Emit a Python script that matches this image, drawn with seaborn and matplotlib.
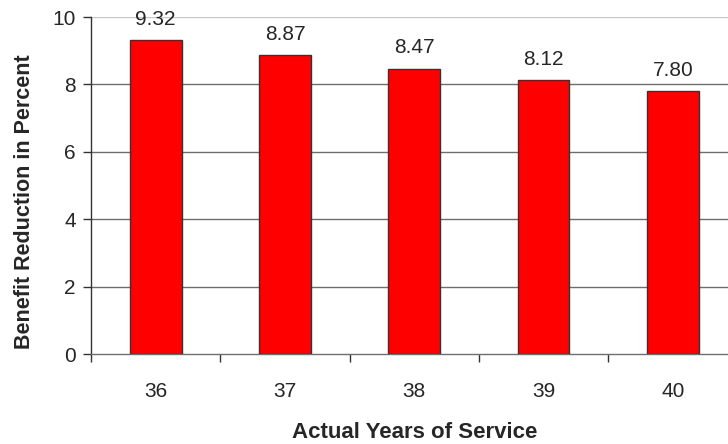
import matplotlib
matplotlib.use("Agg")
import matplotlib.pyplot as plt
import seaborn as sns
import pandas as pd

years = ["36", "37", "38", "39", "40"]
reduction = [9.32, 8.87, 8.47, 8.12, 7.80]
y_ticks = [0, 2, 4, 6, 8, 10]

sns.set_style("white")
plt.rcParams["font.family"] = ["Liberation Sans", "DejaVu Sans"]

df = pd.DataFrame({"years": years, "reduction": reduction})

fig = plt.figure(figsize=(7.28, 4.44), dpi=100)
ax = fig.add_axes([0.125, 0.2027, 0.888, 0.759])

sns.barplot(data=df, x="years", y="reduction", ax=ax, color="#ff0000",
            saturation=1, width=0.4, edgecolor="#333333", linewidth=1, zorder=3)

ax.set_ylim(0, 10)
ax.set_xlim(-0.5, len(years) - 0.5)
ax.set_yticks(y_ticks)
ax.set_yticklabels([str(t) for t in y_ticks], fontsize=15)

for t in y_ticks[1:]:
    ax.axhline(t, color="#c8c8c8" if t == 10 else "#6e6e6e", lw=1, zorder=1)

# category labels at bar centres, tick marks on category boundaries
ax.set_xticks(range(len(years)))
ax.set_xticklabels(years, fontsize=15)
ax.tick_params(axis="x", length=0, pad=20)
ax.set_xticks([i + 0.5 for i in range(-1, len(years))], minor=True)
ax.tick_params(axis="x", which="minor", length=6, width=1, color="#333333", direction="out")
ax.tick_params(axis="y", length=6, width=1, color="#333333", direction="out", pad=5)
ax.xaxis.set_ticks_position("bottom")
ax.yaxis.set_ticks_position("left")

for side in ["top", "right"]:
    ax.spines[side].set_visible(False)
ax.spines["left"].set_color("#333333")
ax.spines["bottom"].set_color("#6e6e6e")
ax.spines["left"].set_linewidth(1)
ax.spines["bottom"].set_linewidth(1)

for i, v in enumerate(reduction):
    ax.annotate(f"{v:.2f}", (i, v), xytext=(0, 8), textcoords="offset points",
                ha="center", va="bottom", fontsize=15)

ax.set_xlabel("Actual Years of Service", fontsize=16, fontweight="bold", labelpad=15)
ax.set_ylabel("Benefit Reduction in Percent", fontsize=15.5, fontweight="bold")
ax.yaxis.set_label_coords(-0.086, 0.451)

fig.savefig("out.png", dpi=100)
